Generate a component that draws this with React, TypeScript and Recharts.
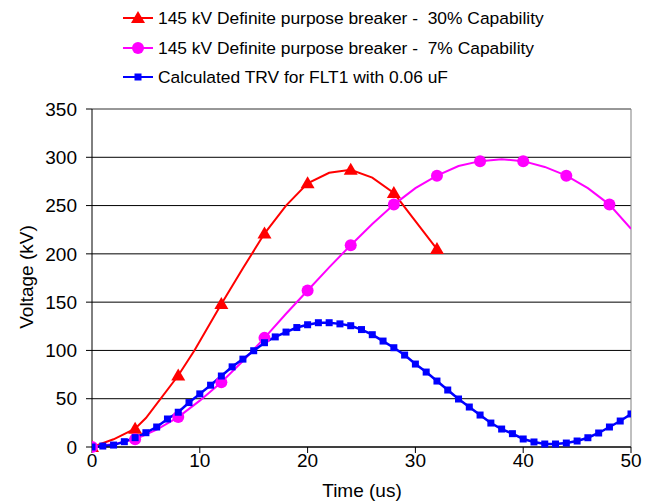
import { LineChart, Line, XAxis, YAxis, CartesianGrid, ReferenceLine, Label } from 'recharts'

// 145 kV breaker, 30% capability (markers every 4 us)
const redTime = [0, 2, 4, 5, 8, 9.5, 12, 14, 16, 18, 20, 22, 24, 26, 28, 30, 32]
const redKv = [0, 8, 19, 30, 74, 100, 148, 185, 221, 250, 273, 284, 287, 279, 263, 234, 205]

// 145 kV breaker, 7% capability
const pinkTime = [0, 2, 4, 6, 8, 10, 12, 14, 16, 18, 20, 22, 24, 26, 28, 30, 32, 34, 36, 38, 40, 42, 44, 46, 48, 50]
const pinkKv = [0, 3, 8, 18, 31, 48, 67, 89, 113, 138, 162, 186, 209, 231, 251, 268, 281, 291, 296, 298, 296, 290, 281, 268, 251, 226]

// calculated TRV, FLT1, 0.06 uF (1 us steps)
const blueTime = [
  0, 1, 2, 3, 4, 5, 6, 7, 8, 9, 10, 11, 12, 13, 14, 15, 16, 17, 18, 19, 20, 21, 22, 23, 24, 25,
  26, 27, 28, 29, 30, 31, 32, 33, 34, 35, 36, 37, 38, 39, 40, 41, 42, 43, 44, 45, 46, 47, 48, 49, 50
]
const blueKv = [
  0, 1, 2, 5.5, 9.7, 14.8, 20.7, 29, 36, 46, 55, 64, 73.5, 83, 91, 99.7, 108, 114, 119, 123.7, 126.6, 128.7, 128.7, 127.5, 125.6, 121.6,
  116.3, 109.7, 102.8, 95.2, 85.9, 77.6, 68.3, 59, 49.7, 41.4, 33.1, 24.8, 18.6, 13.8, 8.3, 5.2, 3.1, 3.1, 4.1, 6.2, 9.6, 14.5, 20.7, 26.9, 34.2
]

const xTicks = [0, 10, 20, 30, 40, 50]
const yTicks = [0, 50, 100, 150, 200, 250, 300, 350]

const seriesNames = [
  '145 kV Definite purpose breaker -  30% Capability',
  '145 kV Definite purpose breaker -  7% Capability',
  'Calculated TRV for FLT1 with 0.06 uF'
]

const RED = '#ff0000'
const PINK = '#ff00ff'
const BLUE = '#0000ff'
const FONT = '"Liberation Sans", Arial, sans-serif'

const toRows = (t: number[], v: number[]) => t.map((x, i) => ({ t: x, v: v[i] }))

const redData = toRows(redTime, redKv)
const pinkData = toRows(pinkTime, pinkKv)
const blueData = toRows(blueTime, blueKv)

const triangle = (cx: number, cy: number, color: string, key?: string) => (
  <path key={key} d={`M${cx},${cy - 7}L${cx + 7},${cy + 5}L${cx - 7},${cy + 5}Z`} fill={color} />
)
const circle = (cx: number, cy: number, color: string, key?: string) => (
  <circle key={key} cx={cx} cy={cy} r={6} fill={color} />
)
const square = (cx: number, cy: number, color: string, key?: string) => (
  <rect key={key} x={cx - 3.5} y={cy - 3.5} width={7} height={7} fill={color} />
)

const every4 = (draw: typeof triangle, color: string, tag: string) => (p: any) => {
  const key = `${tag}-${p.index}`
  if (p.payload && p.payload.t % 4 === 0) return draw(p.cx, p.cy, color, key)
  return <g key={key} />
}

const legendItems = [
  { name: seriesNames[0], color: RED, marker: triangle, y: 18 },
  { name: seriesNames[1], color: PINK, marker: circle, y: 48 },
  { name: seriesNames[2], color: BLUE, marker: square, y: 77 }
]

export default function App() {
  return (
    <div style={{ position: 'absolute', left: 0, top: 0, width: 651, height: 502, background: '#fff' }}>
      <LineChart width={651} height={502} margin={{ top: 109, right: 20, bottom: 0, left: 0 }}>
        <CartesianGrid vertical={false} stroke="#000" />
        <XAxis
          type="number"
          dataKey="t"
          domain={[0, 50]}
          ticks={xTicks}
          allowDataOverflow
          height={55}
          tickSize={6}
          tickMargin={1}
          stroke="#000"
          tick={{ fill: '#000', fontSize: 19, fontFamily: FONT }}
        >
          <Label
            content={() => (
              <text x={362} y={497} textAnchor="middle" fontSize={19} fontFamily={FONT} fill="#000">
                Time (us)
              </text>
            )}
          />
        </XAxis>
        <YAxis
          type="number"
          domain={[0, 350]}
          ticks={yTicks}
          width={92}
          tickSize={6}
          tickMargin={9}
          stroke="#000"
          tick={{ fill: '#000', fontSize: 19, fontFamily: FONT }}
        >
          <Label
            content={() => (
              <text
                x={26}
                y={277}
                transform="rotate(-90 26 277)"
                textAnchor="middle"
                dominantBaseline="central"
                fontSize={19}
                fontFamily={FONT}
                fill="#000"
              >
                Voltage (kV)
              </text>
            )}
          />
        </YAxis>
        <ReferenceLine y={350} stroke="#b0b0b0" />
        <ReferenceLine x={50} stroke="#808080" />
        <Line
          data={redData}
          dataKey="v"
          type="linear"
          stroke={RED}
          strokeWidth={2}
          dot={every4(triangle, RED, 'r')}
          isAnimationActive={false}
        />
        <Line
          data={pinkData}
          dataKey="v"
          type="linear"
          stroke={PINK}
          strokeWidth={2}
          dot={every4(circle, PINK, 'p')}
          isAnimationActive={false}
        />
        <Line
          data={blueData}
          dataKey="v"
          type="linear"
          stroke={BLUE}
          strokeWidth={2.5}
          dot={(p: any) => square(p.cx, p.cy, BLUE, `b-${p.index}`)}
          isAnimationActive={false}
        />
      </LineChart>
      <svg width={651} height={100} style={{ position: 'absolute', left: 0, top: 0, pointerEvents: 'none' }}>
        {legendItems.map(item => (
          <g key={item.name}>
            <line x1={123} x2={153} y1={item.y} y2={item.y} stroke={item.color} strokeWidth={2} />
            {item.marker(138, item.y, item.color)}
            <text
              x={158}
              y={item.y}
              dominantBaseline="central"
              fontSize={17.4}
              fontFamily={FONT}
              fill="#000"
              style={{ whiteSpace: 'pre' }}
            >
              {item.name}
            </text>
          </g>
        ))}
      </svg>
    </div>
  )
}
